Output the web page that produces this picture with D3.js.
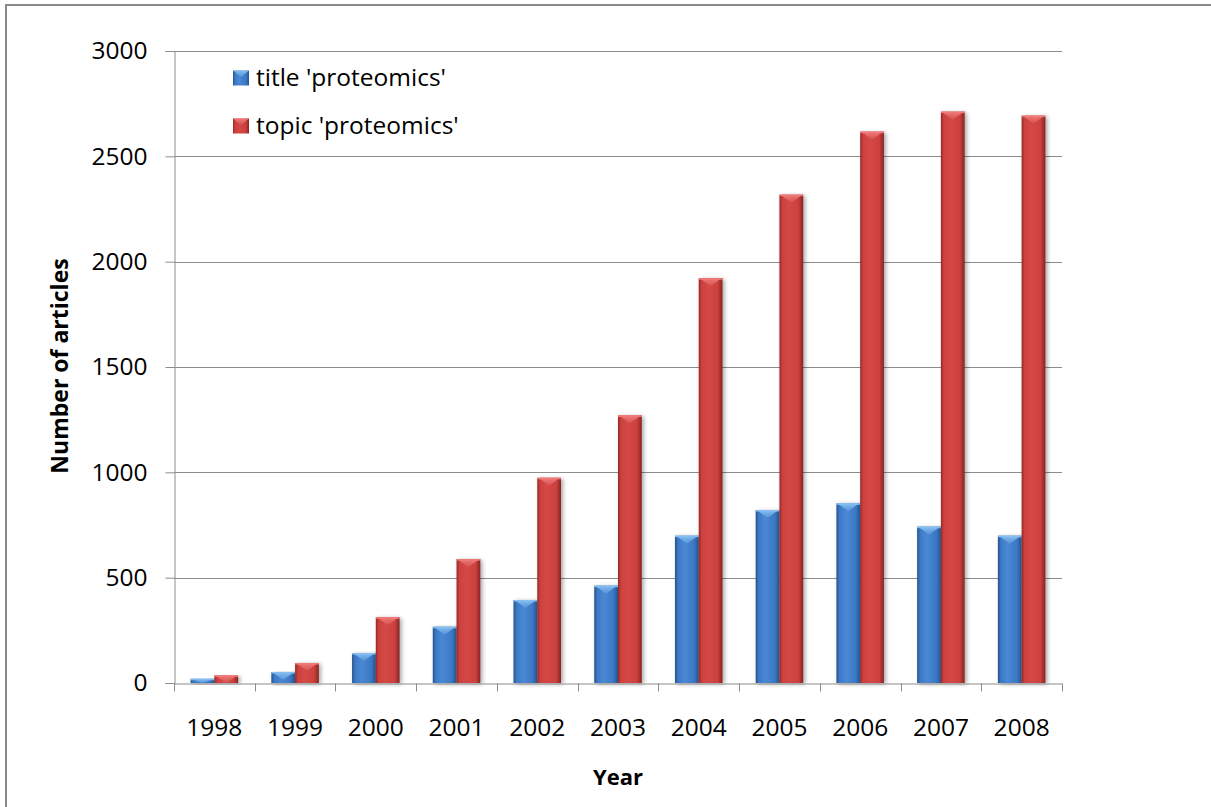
<!DOCTYPE html>
<html>
<head>
<meta charset="utf-8">
<script src="https://cdn.jsdelivr.net/npm/d3@7"></script>
<style>
  html, body { margin: 0; padding: 0; background: #fff; }
  svg { display: block; }
  text { font-family: "Open Sans", sans-serif; fill: #000; }
</style>
</head>
<body>
<svg id="chart" width="1211" height="807"></svg>
<script>
// Articles per year mentioning proteomics
const years = ["1998","1999","2000","2001","2002","2003","2004","2005","2006","2007","2008"];
const seriesNames = ["title 'proteomics'", "topic 'proteomics'"];
const titleCounts = [20, 52, 142, 267, 394, 462, 699, 821, 853, 742, 699];
const topicCounts = [36, 95, 312, 588, 974, 1270, 1921, 2318, 2617, 2712, 2693];
const yTicks = [0, 500, 1000, 1500, 2000, 2500, 3000];

const svg = d3.select("#chart");
const W = 1211, H = 807;
const plot = { left: 174, right: 1062, top: 51, bottom: 683 };
const FONT = "\"Open Sans\", sans-serif";

// outer chart frame
svg.append("rect").attr("x", 0).attr("y", 0).attr("width", W).attr("height", H).attr("fill", "#fff");
svg.append("rect").attr("x", 6).attr("y", 5).attr("width", W + 20).attr("height", H + 20)
  .attr("fill", "none").attr("stroke", "#8a8a8a").attr("stroke-width", 2);

const defs = svg.append("defs");
const palettes = [
  { edgeDark: "#244f86", mid: "#3b79c6", light: "#4a88d4", edgeRight: "#275590", top: "#86bdf0", topEdge: "#5592d8" },
  { edgeDark: "#922826", mid: "#cc403e", light: "#d44846", edgeRight: "#862422", top: "#f07a78", topEdge: "#d25250" }
];
palettes.forEach((p, i) => {
  const g = defs.append("linearGradient").attr("id", "body" + i).attr("x1", 0).attr("x2", 1).attr("y1", 0).attr("y2", 0);
  g.append("stop").attr("offset", "0%").attr("stop-color", p.edgeDark);
  g.append("stop").attr("offset", "12%").attr("stop-color", p.mid);
  g.append("stop").attr("offset", "40%").attr("stop-color", p.light);
  g.append("stop").attr("offset", "80%").attr("stop-color", p.mid);
  g.append("stop").attr("offset", "100%").attr("stop-color", p.edgeRight);
  const t = defs.append("linearGradient").attr("id", "top" + i).attr("x1", 0).attr("x2", 0).attr("y1", 0).attr("y2", 1);
  t.append("stop").attr("offset", "0%").attr("stop-color", p.top);
  t.append("stop").attr("offset", "100%").attr("stop-color", p.topEdge);
});
const shadow = defs.append("filter").attr("id", "shadow").attr("x", "-50%").attr("y", "-10%").attr("width", "200%").attr("height", "120%");
shadow.append("feGaussianBlur").attr("stdDeviation", 2);

const x0 = d3.scaleBand().domain(years).range([plot.left, plot.right]).padding(0);
const x1 = d3.scaleBand().domain(seriesNames).range([0, x0.bandwidth()]).paddingInner(0).paddingOuter(0.7);
const y = d3.scaleLinear().domain([0, 3000]).range([plot.bottom, plot.top]);

// horizontal gridlines
svg.append("g").selectAll("line").data(yTicks.filter(d => d > 0)).join("line")
  .attr("x1", plot.left).attr("x2", plot.right)
  .attr("y1", d => Math.round(y(d)) + 0.5).attr("y2", d => Math.round(y(d)) + 0.5)
  .attr("stroke", "#8c8c8c").attr("stroke-width", 1);

// y axis
const yAxis = svg.append("g").attr("transform", `translate(${plot.left + 0.5},0)`)
  .call(d3.axisLeft(y).tickValues(yTicks).tickSize(9).tickPadding(18).tickFormat(d3.format("d")));
yAxis.select(".domain").attr("stroke", "#8c8c8c");
yAxis.selectAll(".tick line").attr("stroke", "#8c8c8c");
yAxis.selectAll(".tick text").style("font-size", "24.5px").attr("font-family", FONT).attr("fill", "#000");

// bars
const seriesData = [titleCounts, topicCounts];
const barGroups = svg.append("g");
years.forEach((yr, i) => {
  seriesNames.forEach((s, k) => {
    const v = seriesData[k][i];
    const bx = x0(yr) + x1(s);
    const bw = x1.bandwidth();
    const by = y(v);
    const bh = y(0) - by;
    const g = barGroups.append("g");
    g.append("rect").attr("x", bx + 2).attr("y", by + 1).attr("width", bw).attr("height", bh)
      .attr("fill", "#000").attr("opacity", 0.35).attr("filter", "url(#shadow)");
    g.append("rect").attr("x", bx).attr("y", by).attr("width", bw).attr("height", bh)
      .attr("fill", `url(#body${k})`);
    const bev = Math.min(8, bh);
    g.append("polygon")
      .attr("points", [[bx + 1, by], [bx + bw - 1, by], [bx + bw / 2, by + bev]].map(p => p.join(",")).join(" "))
      .attr("fill", `url(#top${k})`);
    g.append("rect").attr("x", bx).attr("y", by).attr("width", bw).attr("height", Math.min(1.5, bh))
      .attr("fill", palettes[k].top);
  });
});

// x axis
const xAxis = svg.append("g").attr("transform", `translate(0,${plot.bottom + 0.5})`)
  .call(d3.axisBottom(x0).tickSize(0).tickPadding(35));
xAxis.select(".domain").attr("stroke", "#8c8c8c");
xAxis.selectAll(".tick text").style("font-size", "24.5px").attr("font-family", FONT).attr("fill", "#000");
xAxis.selectAll(".boundary").data(years.concat(["end"])).join("line")
  .attr("x1", (d, i) => Math.round(plot.left + i * x0.step()) + 0.5)
  .attr("x2", (d, i) => Math.round(plot.left + i * x0.step()) + 0.5)
  .attr("y1", 0).attr("y2", 8).attr("stroke", "#8c8c8c");

// axis titles
svg.append("text").attr("x", 618).attr("y", 785).attr("text-anchor", "middle")
  .style("font-size", "22px").style("font-weight", "bold").text("Year");
svg.append("text").attr("transform", "translate(68,366) rotate(-90)").attr("text-anchor", "middle")
  .style("font-size", "23px").style("font-weight", "bold").text("Number of articles");

// legend
const legend = svg.append("g");
seriesNames.forEach((s, k) => {
  const cy = 78 + k * 48;
  legend.append("rect").attr("x", 233).attr("y", cy - 7.5).attr("width", 16).attr("height", 15)
    .attr("fill", `url(#body${k})`);
  legend.append("polygon")
    .attr("points", [[233, cy - 7.5], [249, cy - 7.5], [241, cy - 1]].map(p => p.join(",")).join(" "))
    .attr("fill", `url(#top${k})`);
  legend.append("text").attr("x", 256).attr("y", cy + 8).style("font-size", "24.5px").text(s);
});
</script>
</body>
</html>
